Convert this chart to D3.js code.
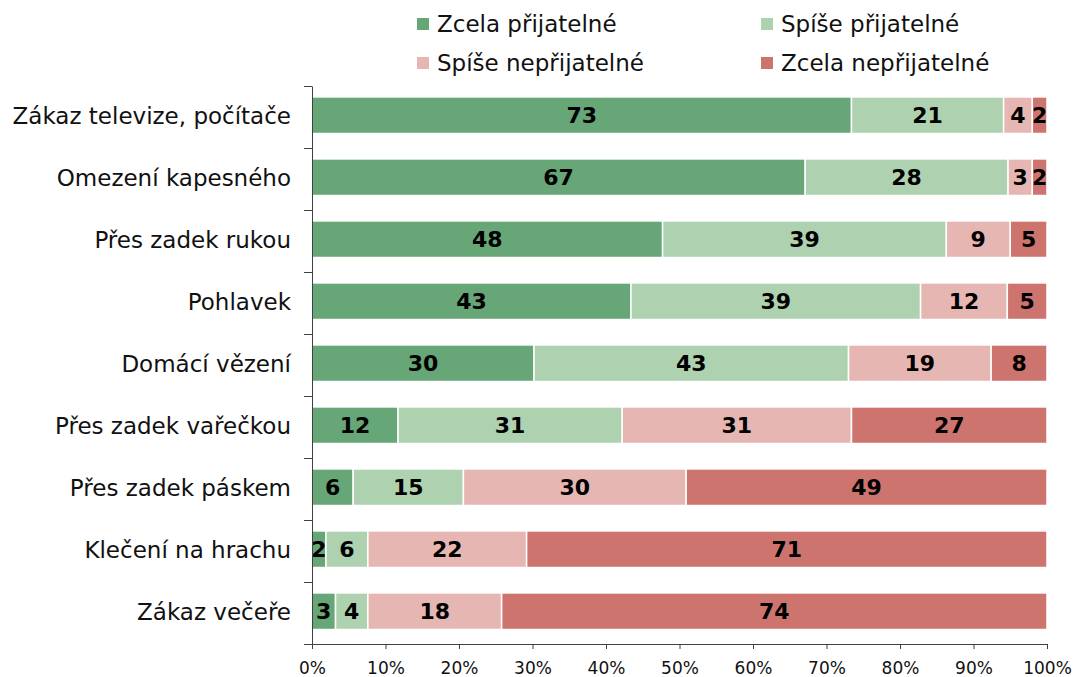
<!DOCTYPE html>
<html>
<head>
<meta charset="utf-8">
<script src="https://cdn.jsdelivr.net/npm/d3@7"></script>
<style>
  html, body { margin: 0; padding: 0; background: #fff; }
  svg { display: block; font-family: "DejaVu Sans", Verdana, sans-serif; }
</style>
</head>
<body>
<svg id="chart" width="1076" height="677"></svg>
<script>
// ---- data (percent of respondents) ----
const categories = [
  "Zákaz televize, počítače",
  "Omezení kapesného",
  "Přes zadek rukou",
  "Pohlavek",
  "Domácí vězení",
  "Přes zadek vařečkou",
  "Přes zadek páskem",
  "Klečení na hrachu",
  "Zákaz večeře"
];
const seriesNames = ["Zcela přijatelné", "Spíše přijatelné", "Spíše nepřijatelné", "Zcela nepřijatelné"];
const zcelaPrijatelne    = [73.4, 67.1, 47.7, 43.4, 30.2, 11.7,  5.6,  1.9,  3.2];
const spisePrijatelne    = [20.7, 27.6, 38.6, 39.4, 42.8, 30.5, 15.0,  5.7,  4.4];
const spiseNeprijatelne  = [ 3.9,  3.3,  8.7, 11.8, 19.4, 31.2, 30.3, 21.6, 18.2];
const zcelaNeprijatelne  = [ 2.0,  2.0,  5.0,  5.4,  7.6, 26.6, 49.1, 70.8, 74.2];
const xTickValues = [0, 0.1, 0.2, 0.3, 0.4, 0.5, 0.6, 0.7, 0.8, 0.9, 1.0];

// ---- styles ----
const colors = ["#67a676", "#aed2b0", "#e6b7b2", "#cd746f"];
const margin = { top: 86, right: 29, bottom: 33, left: 312 };
const W = 1076, H = 677;

const svg = d3.select("#chart");
const seriesData = [zcelaPrijatelne, spisePrijatelne, spiseNeprijatelne, zcelaNeprijatelne];
const rows = categories.map((c, i) => {
  const o = { cat: c };
  seriesNames.forEach((s, j) => o[s] = seriesData[j][i]);
  return o;
});

const stack = d3.stack().keys(seriesNames).offset(d3.stackOffsetExpand);
const stacked = stack(rows);

const x = d3.scaleLinear().domain([0, 1]).range([margin.left, W - margin.right]);
const y = d3.scaleBand().domain(categories)
  .range([margin.top, H - margin.bottom])
  .paddingInner(0.41).paddingOuter(0.205).align(0.43);

// bars
const g = svg.append("g");
const layers = g.selectAll("g.layer").data(stacked).join("g")
  .attr("class", "layer")
  .attr("fill", (d, i) => colors[i]);

layers.selectAll("rect").data(d => d).join("rect")
  .attr("x", d => x(d[0]))
  .attr("width", d => x(d[1]) - x(d[0]))
  .attr("y", d => y(d.data.cat))
  .attr("height", y.bandwidth())
  .attr("stroke", "#fff")
  .attr("stroke-width", 1.5);

// value labels
layers.selectAll("text").data((d, i) => d.map(v => ({ v, key: d.key }))).join("text")
  .attr("x", d => (x(d.v[0]) + x(d.v[1])) / 2)
  .attr("y", d => y(d.v.data.cat) + y.bandwidth() / 2)
  .attr("dy", "0.36em")
  .attr("text-anchor", "middle")
  .attr("fill", "#000")
  .attr("font-weight", "bold")
  .attr("font-size", 22)
  .text(d => Math.round(d.v.data[d.key]));

// x axis
const xAxis = svg.append("g")
  .attr("transform", `translate(0,${H - margin.bottom})`)
  .call(d3.axisBottom(x).tickValues(xTickValues).tickFormat(d3.format(".0%"))
    .tickSize(5).tickSizeOuter(0).tickPadding(13));
xAxis.selectAll("text").attr("font-size", 17).attr("font-family", "DejaVu Sans").attr("fill", "#111");
xAxis.selectAll("line, path").attr("stroke", "#404040");

// y axis boundary ticks
const yb = d3.scaleLinear().domain([0, categories.length]).range([margin.top, H - margin.bottom]);
const yTicks = svg.append("g")
  .attr("transform", `translate(${margin.left},0)`)
  .call(d3.axisLeft(yb).ticks(categories.length).tickFormat("").tickSize(8).tickSizeOuter(0));
yTicks.selectAll("line, path").attr("stroke", "#404040");

// y axis labels
const yAxis = svg.append("g")
  .attr("transform", `translate(${margin.left},0)`)
  .call(d3.axisLeft(y).tickSize(0).tickPadding(21));
yAxis.select("path").remove();
yAxis.selectAll("text").attr("font-size", 23).attr("font-family", "DejaVu Sans")
  .attr("fill", "#111").attr("dy", "0.40em");

// legend
const legendPos = [[417, 18], [761, 18], [417, 57], [761, 57]];
const legend = svg.append("g").selectAll("g").data(seriesNames).join("g")
  .attr("transform", (d, i) => `translate(${legendPos[i][0]},${legendPos[i][1]})`);
legend.append("rect").attr("width", 12).attr("height", 12).attr("fill", (d, i) => colors[i]);
legend.append("text").attr("x", 20).attr("y", 6).attr("dy", "0.36em")
  .attr("font-size", 23).attr("fill", "#111").text(d => d);
</script>
</body>
</html>
